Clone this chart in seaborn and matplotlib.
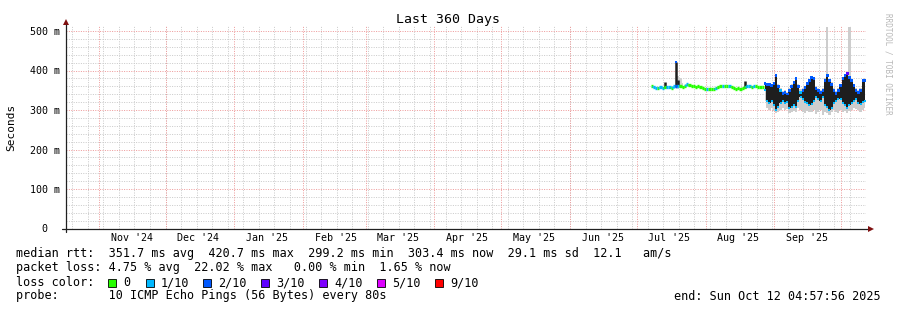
import matplotlib
matplotlib.use("Agg")
import matplotlib.pyplot as plt
import numpy as np
import pandas as pd
import seaborn as sns
from matplotlib.patches import Rectangle
import matplotlib.dates as mdates

W, H, DPI = 897, 310, 100

# ---------------- data ----------------
start = pd.Timestamp("2024-10-17 04:57:56")
end = pd.Timestamp("2025-10-12 04:57:56")

loss_labels = ["0", "1/10", "2/10", "3/10", "4/10", "5/10", "9/10"]
loss_colors = ["#26ff00", "#00b8ff", "#0059ff", "#5e00ff", "#7e00ff", "#dd00ff", "#ff0000"]

# quiet period: median rtt (ms) and loss level index per day
early_dates = pd.date_range("2025-07-08", "2025-08-27", freq="D")
early_median = [360, 358, 356, 355, 357, 355, 359, 357, 358, 356, 360, 360, 362, 362, 358, 360,
                366, 364, 360, 360, 359, 360, 358, 356,
                353, 352, 353, 352, 353, 355, 358, 360, 360, 360, 361, 360, 359, 356, 354, 355,
                354, 356, 358, 360, 360, 359, 360, 360, 359, 359, 359]
early_loss = [0, 1, 1, 0, 1, 1, 0, 1, 1, 0, 1, 2, 1, 0, 0, 0, 1, 0, 0, 0, 0, 0, 0, 0,
              0, 1, 0, 0, 0, 1, 0, 0, 1, 0, 0, 1, 0, 0, 0, 0, 0, 0, 0, 1, 1, 0, 1, 0, 0, 0, 0]

# short dark spikes in the quiet period
spike_dates = pd.to_datetime(["2025-07-14", "2025-07-19", "2025-07-20", "2025-08-19"])
spike_lo = [356, 357, 360, 355]
spike_hi = [370, 421, 376, 373]

# light smoke in the quiet period
early_smoke_dates = pd.to_datetime(["2025-07-19", "2025-07-20", "2025-07-21", "2025-07-22"])
early_smoke_lo = [354, 354, 355, 355]
early_smoke_hi = [421, 385, 380, 368]

# turbulent period: daily envelope of median swings (ms)
late_dates = pd.date_range("2025-08-28", "2025-10-12", freq="D")
late_top = [367, 365, 365, 362,
            367, 388, 360, 350, 342, 345, 340, 350, 360, 370, 380, 360, 345, 350, 357,
            367, 375, 383, 380, 355, 350, 345, 350, 375, 388, 375, 365, 350, 342, 350,
            362, 380, 388, 393, 383, 375, 362, 350, 345, 350, 375, 375]
late_bot = [350, 324, 317, 322,
            312, 299, 307, 317, 324, 317, 319, 304, 307, 312, 307, 324, 332, 329, 319,
            317, 312, 314, 324, 332, 329, 324, 332, 312, 307, 299, 304, 317, 324, 327,
            329, 317, 312, 304, 312, 317, 324, 329, 317, 314, 319, 324]
late_top_loss = [2, 2, 2, 2, 2, 2, 2, 1, 2, 2, 2, 2, 2, 2, 2, 2, 1, 2, 2, 2, 2, 2, 2,
                 2, 2, 2, 2, 2, 2, 2, 2, 2, 2, 2, 2, 2, 2, 3, 2, 2, 2, 2, 2, 2, 2, 2]
late_smoke_lo = [322, 305, 300, 305,
                 298, 292, 295, 300, 305, 300, 302, 292, 295, 298, 295, 305, 300, 295, 293,
                 298, 295, 296, 300, 290, 295, 300, 288, 296, 293, 288, 295, 300, 295, 292,
                 300, 296, 298, 293, 297, 300, 305, 303, 300, 295, 300, 305]
late_smoke_hi = [370, 368, 368, 366,
                 370, 390, 365, 355, 348, 350, 346, 355, 365, 374, 383, 365, 352, 355, 360,
                 370, 378, 386, 383, 360, 355, 350, 355, 380, 510, 378, 370, 355, 348, 355,
                 366, 383, 391, 396, 510, 378, 366, 355, 350, 355, 378, 380]

y_ticks = [0, 100, 200, 300, 400, 500]
y_ticklabels = ["0  ", "100 m", "200 m", "300 m", "400 m", "500 m"]

legend_lines = [
    "median rtt:  351.7 ms avg  420.7 ms max  299.2 ms min  303.4 ms now  29.1 ms sd  12.1   am/s",
    "packet loss: 4.75 % avg  22.02 % max   0.00 % min  1.65 % now",
]
probe_line = "probe:       10 ICMP Echo Pings (56 Bytes) every 80s"
end_line = "end: Sun Oct 12 04:57:56 2025"

# ---------------- style ----------------
sns.set_style("white")
plt.rcParams["font.family"] = ["DejaVu Sans Mono", "DejaVu Sans"]
plt.rcParams["text.color"] = "black"

GRID = "#cbcbcb"
MGRID = "#ee9c9c"
ARROW = "#7f1010"

fig = plt.figure(figsize=(W / DPI, H / DPI), dpi=DPI)
fig.patch.set_facecolor("white")
ax_l, ax_r, ax_top, ax_bot = 65.5, 865.5, 26.0, 228.5
ax = fig.add_axes([ax_l / W, 1 - ax_bot / H, (ax_r - ax_l) / W, (ax_bot - ax_top) / H])
ax.set_facecolor("white")
ymax = 500 * (ax_bot - ax_top) / (ax_bot - 31.0)
ax.set_xlim(start, end)
ax.set_ylim(0, ymax)

dash = (0, (1, 1.4))
# minor grid
for v in range(20, 520, 20):
    if v % 100 != 0:
        ax.axhline(v, color=GRID, lw=0.72, ls=dash, zorder=0)
for d in pd.date_range(start, end, freq="W-SUN"):
    ax.axvline(d, color=GRID, lw=0.72, ls=dash, zorder=0)
# major grid
for v in y_ticks[1:]:
    ax.axhline(v, color=MGRID, lw=0.72, ls=dash, zorder=0.5)
for d in pd.date_range(start, end, freq="MS"):
    ax.axvline(d, color=MGRID, lw=0.72, ls=dash, zorder=0.5)

# smoke
ax.fill_between(late_dates, late_smoke_lo, late_smoke_hi, step="mid", color="#cdcdcd", lw=0, zorder=1)
ax.fill_between(early_smoke_dates, early_smoke_lo, early_smoke_hi, step="mid", color="#d2d2d2", lw=0, zorder=1)

# dark swings
ax.fill_between(late_dates, late_bot, late_top, step="mid", color="#1e1e1e", lw=0, zorder=2)
ax.vlines(spike_dates, spike_lo, spike_hi, color="#1e1e1e", lw=1.8, zorder=2)

# median line coloured by loss
half = pd.Timedelta(hours=12)
for i, (d, m, l) in enumerate(zip(early_dates, early_median, early_loss)):
    ax.hlines(m, d - half, d + half, color=loss_colors[l], lw=2.4, zorder=3)
    if i + 1 < len(early_dates):
        ax.vlines(d + half, m, early_median[i + 1], color=loss_colors[early_loss[i + 1]], lw=2.4, zorder=3)

top_df = pd.DataFrame({"date": late_dates, "rtt": late_top,
                       "loss": [loss_labels[k] for k in late_top_loss]})
sns.scatterplot(data=top_df, x="date", y="rtt", hue="loss", marker="s", s=3.5, linewidth=0,
                palette=dict(zip(loss_labels, loss_colors)), legend=False, ax=ax, zorder=4)
bot_df = pd.DataFrame({"date": late_dates, "rtt": late_bot})
sns.scatterplot(data=bot_df, x="date", y="rtt", color=loss_colors[1], marker="s", s=3.5,
                linewidth=0, legend=False, ax=ax, zorder=4)
sns.scatterplot(x=[spike_dates[1]], y=[spike_hi[1]], color=loss_colors[2], marker="s", s=4,
                linewidth=0, legend=False, ax=ax, zorder=4)

# axes
for s in ax.spines.values():
    s.set_visible(False)
ax.set_xlabel("")
ax.set_ylabel("")
ax.set_yticks(y_ticks)
ax.set_yticklabels(y_ticklabels)
ax.tick_params(axis="y", length=0, pad=4, labelsize=7.2, colors="black")
ax.xaxis.set_major_locator(mdates.MonthLocator(bymonthday=16))
ax.xaxis.set_major_formatter(mdates.DateFormatter("%b '%y"))
ax.tick_params(axis="x", which="major", length=0, pad=3.5, labelsize=7.2, colors="black")
ax.xaxis.set_minor_locator(mdates.WeekdayLocator(byweekday=mdates.SU))
ax.tick_params(axis="x", which="minor", length=3, direction="inout", color="#a0a0a0", width=0.7)

# axis lines and arrows
hgt = ax_bot - ax_top
wid = ax_r - ax_l
ax.plot([0, 0], [-3.5 / hgt, 1 + 3 / hgt], transform=ax.transAxes, color="#202020", lw=0.9,
        clip_on=False, zorder=5)
ax.plot([-3.5 / wid, 1 + 3 / wid], [0, 0], transform=ax.transAxes, color="#202020", lw=0.9,
        clip_on=False, zorder=5)
ax.plot([0], [1 + 4 / hgt], marker="^", ms=4.5, color=ARROW, transform=ax.transAxes,
        clip_on=False, zorder=6, markeredgewidth=0)
ax.plot([1 + 5 / wid], [0], marker=">", ms=4.5, color=ARROW, transform=ax.transAxes,
        clip_on=False, zorder=6, markeredgewidth=0)

# texts
fig.text(448 / W, 1 - 19 / H, "Last 360 Days", ha="center", va="center", fontsize=9.5)
fig.text(11 / W, 1 - 127 / H, "Seconds", rotation=90, ha="center", va="center", fontsize=8)
fig.text(887.5 / W, 1 - 13 / H, "RRDTOOL / TOBI OETIKER", rotation=270, ha="center", va="top",
         fontsize=5.5, color="#b8b8b8")

FS = 8.5
fig.text(16 / W, 1 - 254 / H, legend_lines[0], ha="left", va="center", fontsize=FS)
fig.text(16 / W, 1 - 268 / H, legend_lines[1], ha="left", va="center", fontsize=FS)
fig.text(16 / W, 1 - 282.5 / H, "loss color:", ha="left", va="center", fontsize=FS)
sq_x = [108, 146, 203, 261, 319, 377, 435]
for x, lab, col in zip(sq_x, loss_labels, loss_colors):
    fig.patches.append(Rectangle((x / W, 1 - 287 / H), 8 / W, 8 / H, transform=fig.transFigure,
                                 facecolor=col, edgecolor="black", lw=0.6, figure=fig))
    fig.text((x + 15) / W, 1 - 282.5 / H, lab, ha="left", va="center", fontsize=FS)
fig.text(16 / W, 1 - 296 / H, probe_line, ha="left", va="center", fontsize=FS)
fig.text(881 / W, 1 - 296 / H, end_line, ha="right", va="center", fontsize=FS)

fig.savefig("out.png", dpi=DPI, facecolor="white")
